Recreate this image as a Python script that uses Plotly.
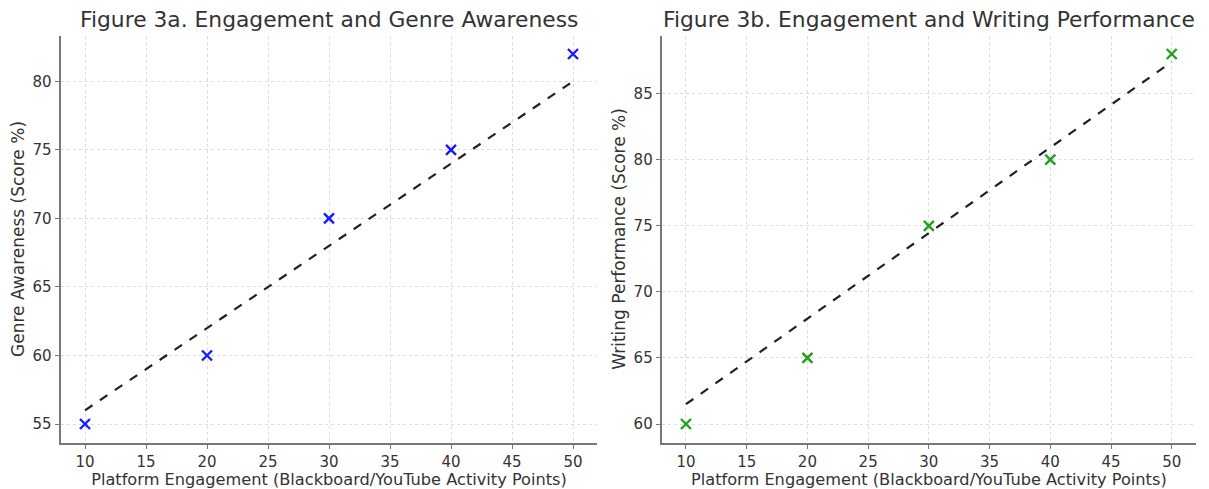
import plotly.graph_objects as go

# Data
engagement = [10, 20, 30, 40, 50]
genre_awareness = [55, 60, 70, 75, 82]
writing_performance = [60, 65, 75, 80, 88]

trend_x = [10, 50]
trend_genre = [56.0, 80.0]
trend_writing = [61.5, 87.4]

x_ticks = [10, 15, 20, 25, 30, 35, 40, 45, 50]
y_ticks_a = [55, 60, 65, 70, 75, 80]
y_ticks_b = [60, 65, 70, 75, 80, 85]

titles = ["Figure 3a. Engagement and Genre Awareness",
          "Figure 3b. Engagement and Writing Performance"]
x_title = "Platform Engagement (Blackboard/YouTube Activity Points)"
y_titles = ["Genre Awareness (Score %)", "Writing Performance (Score %)"]

FONT = "DejaVu Sans"
TXT = "#333333"
W, H = 1201, 481  # page body has an 8px margin

fig = go.Figure()

fig.add_trace(go.Scatter(x=trend_x, y=trend_genre, mode="lines",
                         line=dict(color="#222222", width=2.2, dash="dash"),
                         xaxis="x", yaxis="y", showlegend=False))
fig.add_trace(go.Scatter(x=engagement, y=genre_awareness, mode="markers",
                         marker=dict(symbol="x-thin", size=10, color="#1a1aff",
                                     line=dict(color="#1a1aff", width=2.4)),
                         xaxis="x", yaxis="y", showlegend=False))

fig.add_trace(go.Scatter(x=trend_x, y=trend_writing, mode="lines",
                         line=dict(color="#222222", width=2.2, dash="dash"),
                         xaxis="x2", yaxis="y2", showlegend=False))
fig.add_trace(go.Scatter(x=engagement, y=writing_performance, mode="markers",
                         marker=dict(symbol="x-thin", size=10, color="#22a022",
                                     line=dict(color="#22a022", width=2.4)),
                         xaxis="x2", yaxis="y2", showlegend=False))

grid = dict(showgrid=True, gridcolor="#dddddd", griddash="dot", gridwidth=1,
            zeroline=False, showline=True, linecolor="#777777", linewidth=2,
            ticks="outside", ticklen=4, tickcolor="#777777", tickwidth=1,
            tickfont=dict(family=FONT, size=15, color=TXT), mirror=False,
            automargin=False)

XT = dict(family=FONT, size=16.2, color=TXT)
YT = dict(family=FONT, size=17, color=TXT)

y_dom = [(H - 434.5) / H, 1 - 27.5 / H]
x_dom_a = [52.6 / W, 589.4 / W]
x_dom_b = [653.7 / W, 1188 / W]
fig.update_layout(
    width=W, height=H,
    margin=dict(l=0, r=0, t=0, b=0),
    paper_bgcolor="white", plot_bgcolor="white",
    xaxis=dict(domain=x_dom_a, range=[8, 52], tickvals=x_ticks, anchor="y",
               title=dict(text=x_title, font=XT, standoff=0), **grid),
    yaxis=dict(domain=y_dom, range=[53.65, 83.35], tickvals=y_ticks_a, anchor="x",
               title=dict(text=y_titles[0], font=YT, standoff=4), **grid),
    xaxis2=dict(domain=x_dom_b, range=[8, 52], tickvals=x_ticks, anchor="y2",
                title=dict(text=x_title, font=XT, standoff=0), **grid),
    yaxis2=dict(domain=y_dom, range=[58.6, 89.4], tickvals=y_ticks_b, anchor="x2",
                title=dict(text=y_titles[1], font=YT, standoff=4), **grid),
    annotations=[
        dict(text=titles[0], x=sum(x_dom_a) / 2, y=1 - 11 / H, xref="paper", yref="paper",
             xanchor="center", yanchor="middle", showarrow=False,
             font=dict(family=FONT, size=21.8, color=TXT)),
        dict(text=titles[1], x=sum(x_dom_b) / 2, y=1 - 11 / H, xref="paper", yref="paper",
             xanchor="center", yanchor="middle", showarrow=False,
             font=dict(family=FONT, size=21.8, color=TXT)),
    ],
)

fig.write_html("out.html")
